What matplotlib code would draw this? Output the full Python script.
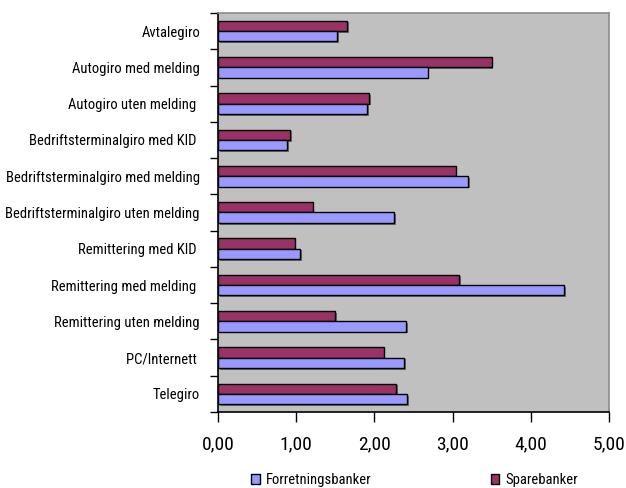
import matplotlib
matplotlib.use("Agg")
import matplotlib.pyplot as plt
import matplotlib.patheffects as pe
from matplotlib import font_manager
import numpy as np

# Pick a narrow sans face if one is installed
_faces = [(f.name, str(f.stretch)) for f in font_manager.fontManager.ttflist]
_names = {n for n, _ in _faces}
family, stretch, narrow = "Liberation Sans", "normal", False
for cand in ["Liberation Sans Narrow", "Arial Narrow", "Roboto Condensed",
             "Open Sans Condensed", "DejaVu Sans Condensed", "Noto Sans Condensed"]:
    if cand in _names:
        family, narrow = cand, True
        break
if not narrow:
    for n, s in _faces:
        if n in ("Liberation Sans", "DejaVu Sans", "Noto Sans", "Roboto", "Open Sans") and \
                s in ("condensed", "semi-condensed", "extra-condensed", "75", "87.5", "62.5"):
            family, stretch, narrow = n, s, True
            break
plt.rcParams['font.family'] = [family, 'DejaVu Sans']
plt.rcParams['font.stretch'] = stretch
scale = 1.0 if narrow else 0.84

categories = [
    "Avtalegiro",
    "Autogiro med melding",
    "Autogiro uten melding ",
    "Bedriftsterminalgiro med KID ",
    "Bedriftsterminalgiro med melding",
    "Bedriftsterminalgiro uten melding",
    "Remittering med KID ",
    "Remittering med melding ",
    "Remittering uten melding",
    "PC/Internett ",
    "Telegiro",
]
forretningsbanker = [1.52, 2.68, 1.91, 0.88, 3.20, 2.25, 1.05, 4.43, 2.41, 2.38, 2.42]
sparebanker = [1.65, 3.50, 1.93, 0.92, 3.04, 1.21, 0.98, 3.08, 1.50, 2.12, 2.28]
xticks = [0, 1, 2, 3, 4, 5]
xticklabels = ["0,00", "1,00", "2,00", "3,00", "4,00", "5,00"]

fig = plt.figure(figsize=(6.26, 4.88), dpi=100)
ax = fig.add_axes([0.3483, 0.1557, 0.6245, 0.8177])
ax.set_facecolor("#C0C0C0")

n = len(categories)
pos = np.arange(n)
h = 0.285
shadow = [pe.SimplePatchShadow(offset=(1.2, -1.2), shadow_rgbFace="#555555", alpha=0.8), pe.Normal()]

ax.barh(pos - h / 2, sparebanker, height=h, color="#993366", edgecolor="black",
        linewidth=1.0, label="Sparebanker", path_effects=shadow, zorder=3)
ax.barh(pos + h / 2, forretningsbanker, height=h, color="#9999FF", edgecolor="black",
        linewidth=1.0, label="Forretningsbanker", path_effects=shadow, zorder=3)

ax.set_xlim(0, 5)
ax.set_ylim(n - 0.5, -0.5)

ax.set_xticks(xticks)
ax.set_xticklabels(xticklabels, fontsize=14 * scale)
ax.tick_params(axis="x", direction="out", length=7, width=1, pad=10, color="black")

ax.set_yticks(np.arange(-0.5, n, 1.0))
ax.set_yticklabels([])
ax.tick_params(axis="y", which="major", direction="out", length=6, width=1, color="black")
ax.set_yticks(pos, minor=True)
ax.set_yticklabels(categories, minor=True, fontsize=10.5 * scale)
ax.tick_params(axis="y", which="minor", length=0, pad=13)

for side in ("top", "right"):
    ax.spines[side].set_color("#8C8C8C")
    ax.spines[side].set_linewidth(1.2)
for side in ("left", "bottom"):
    ax.spines[side].set_color("black")
    ax.spines[side].set_linewidth(1.2)

handles, labels = ax.get_legend_handles_labels()
leg = fig.legend([handles[1], handles[0]], [labels[1], labels[0]], ncol=2,
                 loc="center", bbox_to_anchor=(0.662, 0.016), frameon=False,
                 fontsize=10.5 * scale, handlelength=0.6, handleheight=0.75,
                 handletextpad=0.4, columnspacing=8.2)
for p in leg.get_patches():
    p.set_path_effects([])

fig.savefig("out.png", dpi=100, facecolor="white")
